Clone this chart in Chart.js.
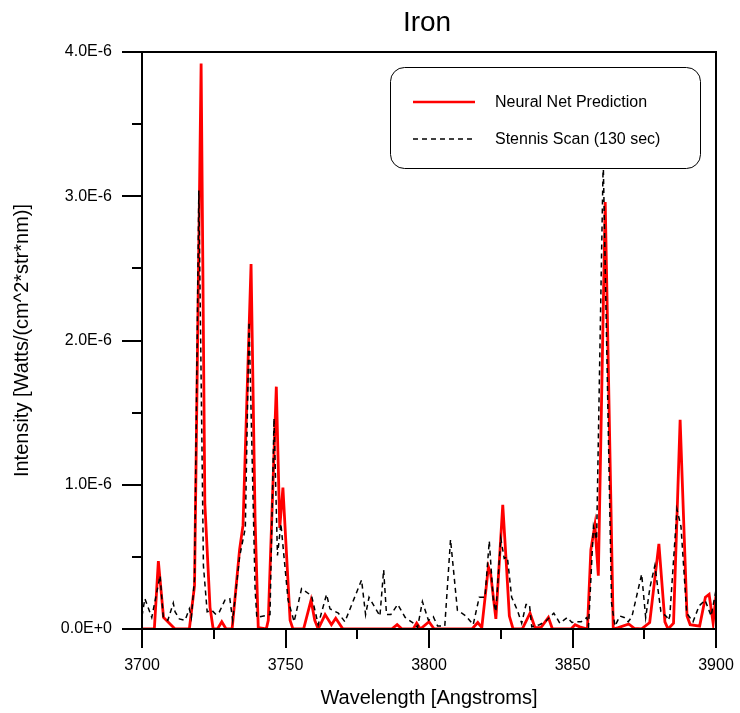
<!DOCTYPE html>
<html lang="en">
<head>
<meta charset="UTF-8">
<title>Iron</title>
<script src="https://cdn.jsdelivr.net/npm/chart.js@4.4.1/dist/chart.umd.min.js"></script>
<style>
    body { margin: 0; background: #fff; }
    #wrap { width: 740px; height: 713px; }
</style>
</head>
<body>
<div id="wrap"><canvas id="myChart"></canvas></div>
<script>
    // values, intensity in units of 1E-6 W/(cm^2*str*nm)
    var nnWl = [3700, 3704.3, 3705.7, 3707.5, 3709, 3711.5, 3716.5, 3718.3, 3720.6, 3721.9,
        3723.7, 3724.8, 3726.3, 3727.8, 3729.3, 3731.4, 3734, 3735.2, 3738.0, 3739.4,
        3740.5, 3743.3, 3744, 3746.8, 3748, 3749.1, 3751.6, 3752.6, 3756.3, 3758.9,
        3760.2, 3761.4, 3763.8, 3766, 3767.5, 3770, 3787, 3788.9, 3790.6, 3794.5,
        3795.7, 3797, 3800, 3801.8, 3815, 3817, 3818.4, 3820.7, 3821.5, 3823.3,
        3825.7, 3827.1, 3828, 3829.3, 3832.5, 3835.2, 3836.9, 3839, 3841.6, 3843,
        3849.5, 3850.9, 3852.5, 3855.2, 3856.4, 3857.8, 3859, 3861.4, 3864.2, 3866,
        3869.6, 3871.5, 3874, 3876.9, 3880.1, 3882.2, 3883.3, 3885.2, 3887.5, 3889.9,
        3891, 3894.3, 3896.3, 3897.6, 3899, 3900];
    var nnVal = [0, 0, 0.47, 0.08, 0.05, 0, 0, 0.3, 3.92, 0.87,
        0.15, 0, 0, 0.05, 0, 0, 0.55, 0.72, 2.53, 0.76,
        0.01, 0, 0.06, 1.68, 0.7, 0.98, 0.06, 0, 0, 0.2,
        0.06, 0, 0.1, 0.03, 0.075, 0, 0, 0.03, 0, 0,
        0.04, 0, 0.05, 0, 0, 0.045, 0.01, 0.43, 0.38, 0.07,
        0.86, 0.4, 0.09, 0, 0, 0.11, 0.01, 0.01, 0.08, 0,
        0, 0.03, 0.015, 0, 0.55, 0.72, 0.37, 2.96, 0, 0.01,
        0.035, 0.005, 0, 0.045, 0.59, 0.05, 0, 0.04, 1.45, 0.09,
        0.03, 0.02, 0.22, 0.24, 0.04, 0.23];

    var scanWl = [3700, 3701, 3703.4, 3706.3, 3707.4, 3709, 3710.9, 3711.5, 3713, 3715,
        3716.5, 3717.2, 3718.3, 3719.8, 3721.4, 3722.7, 3724.3, 3725.8, 3727, 3728.9,
        3730.6, 3731.6, 3734, 3736, 3737.3, 3739.4, 3740, 3744.6, 3746, 3747.2,
        3748.4, 3750.9, 3753, 3755.6, 3759.1, 3761.4, 3764.3, 3765.5, 3768.4, 3770.7,
        3776.5, 3777.9, 3779.1, 3782.9, 3784.2, 3785.2, 3786.7, 3789.1, 3791.7, 3794.6,
        3796, 3797.7, 3799.8, 3801.5, 3803, 3805.5, 3807.5, 3809.9, 3812.9, 3815.4,
        3817.5, 3819.5, 3821, 3822.4, 3823.3, 3825, 3826.2, 3827.3, 3828.8, 3830.8,
        3832.3, 3833.8, 3835, 3835.8, 3838.5, 3840.5, 3843.5, 3845.6, 3848.2, 3849.8,
        3850.9, 3853, 3855, 3855.6, 3857.3, 3858.4, 3860.7, 3863.6, 3864.8, 3866.5,
        3868, 3869.4, 3870.7, 3874.1, 3875.5, 3877, 3878.7, 3880.8, 3882.8, 3883.4,
        3883.9, 3886.4, 3887.8, 3889.8, 3892, 3894.1, 3896.2, 3898.3, 3899.9];
    var scanVal = [0.09, 0.21, 0.08, 0.37, 0.085, 0.06, 0.18, 0.12, 0.07, 0.06,
        0.14, 0.08, 0.35, 3.04, 0.44, 0.12, 0.13, 0.1, 0.12, 0.2,
        0.21, 0.06, 0.5, 0.7, 2.13, 0.28, 0.08, 0.1, 1.46, 0.51,
        0.73, 0.2, 0.05, 0.28, 0.23, 0.03, 0.24, 0.14, 0.11, 0.05,
        0.34, 0.1, 0.22, 0.09, 0.41, 0.1, 0.1, 0.17, 0.08, 0.04,
        0.01, 0.19, 0.06, 0.085, 0.02, 0.02, 0.62, 0.13, 0.09, 0.03,
        0.22, 0.22, 0.61, 0.2, 0.12, 0.63, 0.49, 0.5, 0.22, 0.13,
        0.04, 0.17, 0.17, 0.015, 0.03, 0.05, 0.11, 0.04, 0.08, 0.045,
        0.05, 0.05, 0.08, 0.02, 0.71, 0.62, 3.25, 0.18, 0.02, 0.09,
        0.08, 0.05, 0.085, 0.38, 0.08, 0.29, 0.44, 0.12, 0.085, 0.06,
        0.09, 0.83, 0.71, 0.11, 0.05, 0.16, 0.2, 0.09, 0.26];

    var yTickLabels = ['0.0E+0', '1.0E-6', '2.0E-6', '3.0E-6', '4.0E-6'];
    var seriesNames = ['Neural Net Prediction', 'Stennis Scan (130 sec)'];

    var FONT = '"Liberation Sans", Arial, Helvetica, sans-serif';

    function f_points(p_x, p_y) {
        var v_pts = [];
        for (var i = 0; i < p_x.length; i++) {
            v_pts.push({ x: p_x[i], y: p_y[i] });
        }
        return v_pts;
    }

    // frame, tick marks, title and the boxed legend
    var decor = {
        id: 'decor',
        afterDatasetsDraw: function (chart) {
            var c = chart.ctx;
            var a = chart.chartArea;
            var xs = chart.scales.x;
            var ys = chart.scales.y;
            c.save();
            c.strokeStyle = '#000';
            c.lineWidth = 2;
            c.strokeRect(a.left, a.top, a.right - a.left, a.bottom - a.top);

            c.beginPath();
            for (var v = 0; v <= 4; v += 0.5) {
                var py = Math.round(ys.getPixelForValue(v));
                var len = (v % 1 === 0) ? 20 : 10;
                c.moveTo(a.left - len, py);
                c.lineTo(a.left, py);
            }
            for (var w = 3700; w <= 3900; w += 25) {
                var px = Math.round(xs.getPixelForValue(w));
                var len2 = (w % 50 === 0) ? 19 : 10;
                c.moveTo(px, a.bottom);
                c.lineTo(px, a.bottom + len2);
            }
            c.stroke();

            c.fillStyle = '#000';
            c.font = '28px ' + FONT;
            c.textAlign = 'center';
            c.textBaseline = 'middle';
            c.fillText('Iron', (a.left + a.right) / 2 - 2, 23);

            // legend box
            c.beginPath();
            c.roundRect(390.5, 67.5, 310, 101, 14);
            c.fillStyle = '#fff';
            c.fill();
            c.lineWidth = 1;
            c.strokeStyle = '#000';
            c.stroke();

            c.beginPath();
            c.strokeStyle = '#ff0000';
            c.lineWidth = 2.5;
            c.moveTo(413, 102);
            c.lineTo(475, 102);
            c.stroke();

            c.beginPath();
            c.strokeStyle = '#000';
            c.lineWidth = 1.3;
            c.setLineDash([5, 4]);
            c.moveTo(413, 139);
            c.lineTo(475, 139);
            c.stroke();
            c.setLineDash([]);

            c.fillStyle = '#000';
            c.font = '16px ' + FONT;
            c.textAlign = 'left';
            c.fillText(seriesNames[0], 495, 103);
            c.fillText(seriesNames[1], 495, 140);
            c.restore();
        }
    };

    const ctx = document.getElementById('myChart').getContext('2d');
    const myChart = new Chart(ctx, {
        type: 'line',
        data: {
            datasets: [{
                label: seriesNames[0],
                data: f_points(nnWl, nnVal),
                borderColor: '#ff0000',
                borderWidth: 2.8,
                pointRadius: 0,
                tension: 0,
                order: 2
            }, {
                label: seriesNames[1],
                data: f_points(scanWl, scanVal),
                borderColor: '#000000',
                borderWidth: 1.5,
                borderDash: [5, 4],
                pointRadius: 0,
                tension: 0,
                order: 1
            }]
        },
        options: {
            responsive: true,
            maintainAspectRatio: false,
            animation: false,
            layout: { padding: { top: 52, right: 24, left: 0, bottom: 0 } },
            plugins: {
                legend: { display: false },
                title: { display: false },
                tooltip: { enabled: false }
            },
            scales: {
                x: {
                    type: 'linear',
                    min: 3700,
                    max: 3900,
                    grid: { display: false, drawTicks: false },
                    border: { display: false },
                    ticks: {
                        stepSize: 50,
                        padding: 27,
                        color: '#000',
                        font: { family: FONT, size: 16 },
                        maxRotation: 0,
                        callback: function (v) { return String(v); }
                    },
                    title: {
                        display: true,
                        text: 'Wavelength [Angstroms]',
                        color: '#000',
                        font: { family: FONT, size: 20 },
                        padding: { top: 0, bottom: 3 }
                    },
                    afterFit: function (scale) {
                        scale.height = 84;
                        scale.paddingLeft = 0;
                        scale.paddingRight = 0;
                    }
                },
                y: {
                    min: 0,
                    max: 4,
                    grid: { display: false, drawTicks: false },
                    border: { display: false },
                    ticks: {
                        stepSize: 1,
                        padding: 30,
                        color: '#000',
                        font: { family: FONT, size: 16 },
                        callback: function (v) { return yTickLabels[Math.round(v)]; }
                    },
                    title: {
                        display: true,
                        text: 'Intensity [Watts/(cm^2*str*nm)]',
                        color: '#000',
                        font: { family: FONT, size: 20 },
                        padding: { top: 10, bottom: 0 }
                    },
                    afterFit: function (scale) {
                        scale.width = 142;
                        scale.paddingTop = 0;
                        scale.paddingBottom = 0;
                    }
                }
            }
        },
        plugins: [decor]
    });
</script>
</body>
</html>
